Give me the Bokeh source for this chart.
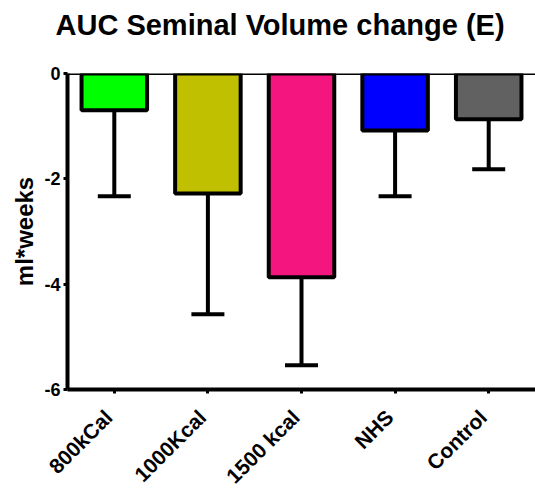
import math
from bokeh.plotting import figure
from bokeh.models import (ColumnDataSource, Range1d, Span, Whisker, TeeHead,
                          FixedTicker, LinearAxis, Title)
from bokeh.embed import file_html
from bokeh.resources import INLINE

categories = ["800kCal", "1000Kcal", "1500 kcal", "NHS", "Control"]
means = [-0.70, -2.28, -3.87, -1.08, -0.87]
sds = [1.63, 2.29, 1.67, 1.25, 0.95]
colors = ["#00FF00", "#C0C000", "#F5157E", "#0000FF", "#616161"]
y_ticks = [0, -2, -4, -6]
y_tick_labels = ["0", "-2", "-4", "-6"]
title_text = "AUC Seminal Volume change (E)"
y_label = "ml*weeks"

y_min = min(y_ticks)
n = len(categories)
pos = list(range(n))
lower = [m - s for m, s in zip(means, sds)]
source = ColumnDataSource(dict(pos=pos, cat=categories, mean=means, low=lower, color=colors,
                               zero=[0] * n))

FONT = "Liberation Sans"
label_shift = 0.06  # shifts rotated category labels slightly left

p = figure(width=535, height=501, x_range=Range1d(-0.5, n - 0.5),
           y_range=Range1d(y_min, 0), output_backend="svg", toolbar_location=None,
           title=None,
           min_border_left=67, min_border_right=0, min_border_top=73, min_border_bottom=112)
p.extra_x_ranges = {"labels": Range1d(-0.5 + label_shift, n - 0.5 + label_shift)}

spacer = Title(text=" ", text_font_size="1px", standoff=30)
p.add_layout(spacer, "above")
title = Title(text=title_text, text_font=FONT, text_font_size="29px", text_font_style="bold",
              text_color="black", align="left", offset=-12, standoff=0)
p.add_layout(title, "above")

p.outline_line_color = None
p.background_fill_color = "white"
p.border_fill_color = "white"
p.grid.grid_line_color = None

p.vbar(x="pos", top="zero", bottom="mean", width=0.70, source=source,
       fill_color="color", line_color="black", line_width=4)

w = Whisker(source=source, base="pos", upper="mean", lower="low", dimension="height",
            line_color="black", line_width=4, upper_head=None,
            lower_head=TeeHead(size=33, line_color="black", line_width=4))
p.add_layout(w)

p.add_layout(Span(location=0, dimension="width", line_color="black", line_width=3))

yax = p.yaxis[0]
yax.ticker = FixedTicker(ticks=y_ticks)
yax.major_label_overrides = {t: s for t, s in zip(y_ticks, y_tick_labels)}
yax.minor_tick_line_color = None
yax.axis_line_width = 4
yax.major_tick_line_width = 3
yax.major_tick_out = 4
yax.major_tick_in = 0
yax.major_label_standoff = 3
yax.major_label_text_font = FONT
yax.major_label_text_font_size = "18px"
yax.major_label_text_font_style = "bold"
yax.major_label_text_color = "black"
yax.axis_label = y_label
yax.axis_label_text_font = FONT
yax.axis_label_text_font_size = "24px"
yax.axis_label_text_font_style = "bold"
yax.axis_label_text_color = "black"
yax.axis_label_standoff = 3

xax = p.xaxis[0]
xax.ticker = FixedTicker(ticks=pos)
xax.minor_tick_line_color = None
xax.axis_line_width = 4
xax.major_tick_line_width = 3
xax.major_tick_out = 4
xax.major_tick_in = 0
xax.major_label_standoff = 0
xax.major_label_text_font_size = "1px"
xax.major_label_text_color = None

lab_axis = LinearAxis(x_range_name="labels", ticker=FixedTicker(ticks=pos),
                      major_label_overrides={i: c for i, c in zip(pos, categories)})
lab_axis.axis_line_color = None
lab_axis.major_tick_line_color = None
lab_axis.minor_tick_line_color = None
lab_axis.major_label_orientation = math.pi / 4
lab_axis.major_label_standoff = 14
lab_axis.major_label_text_font = FONT
lab_axis.major_label_text_font_size = "21px"
lab_axis.major_label_text_font_style = "bold"
lab_axis.major_label_text_color = "black"
p.add_layout(lab_axis, "below")

open("out.html", "w").write(file_html(p, INLINE))
